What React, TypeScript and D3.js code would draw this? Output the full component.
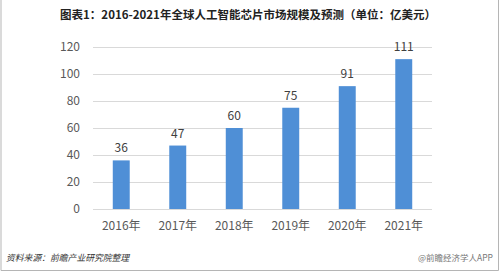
import React from "react";
import * as d3 from "d3";

const categories = ["2016年", "2017年", "2018年", "2019年", "2020年", "2021年"];
const values = [36, 47, 60, 75, 91, 111];
const yTicks = [0, 20, 40, 60, 80, 100, 120];
const title = "图表1：2016-2021年全球人工智能芯片市场规模及预测（单位：亿美元）";
const source = "资料来源：前瞻产业研究院整理";
const credit = "@前瞻经济学人APP";

const W = 500;
const H = 272;
const left = 93;
const right = 432;
const top = 47;
const bottom = 209;

export default function App() {
  const x = d3.scaleBand<string>().domain(categories).range([left, right]).paddingInner(0.7).paddingOuter(0.35);
  const y = d3.scaleLinear().domain([0, 120]).range([bottom, top]);
  const font = "'Microsoft YaHei', 'Noto Sans CJK SC', sans-serif";
  return (
    <svg width={W} height={H} style={{ position: "absolute", left: 0, top: 0, background: "#fff" }} fontFamily={font}>
      <rect x={0} y={0} width={W} height={H} fill="#fff" />
      <line x1={1} y1={0} x2={1} y2={270.5} stroke="#b5b5b5" />
      <line x1={498.5} y1={0} x2={498.5} y2={270.5} stroke="#b5b5b5" />
      <line x1={1} y1={270.5} x2={498.5} y2={270.5} stroke="#b5b5b5" />
      <text x={248} y={19} textAnchor="middle" fontSize={11.5} fontWeight="bold" fill="#222">{title}</text>
      {yTicks.map((t) => (
        <g key={t}>
          <line x1={left} x2={right} y1={Math.round(y(t)) + 0.5} y2={Math.round(y(t)) + 0.5} stroke="#d9d9d9" />
          <text x={80} y={y(t)} dy="0.35em" textAnchor="end" fontSize={12} fill="#595959">{t}</text>
        </g>
      ))}
      {categories.map((c, i) => (
        <g key={c}>
          <rect x={x(c)} y={y(values[i])} width={x.bandwidth()} height={bottom - y(values[i])} fill="#4f8fd6" />
          <text x={(x(c) as number) + x.bandwidth() / 2} y={y(values[i]) - 8} textAnchor="middle" fontSize={12} fill="#404040">{values[i]}</text>
          <text x={(x(c) as number) + x.bandwidth() / 2} y={226} dy="0.35em" textAnchor="middle" fontSize={12} fill="#595959">{c}</text>
        </g>
      ))}
      <text x={6} y={261} fontSize={8.8} fontStyle="italic" fill="#333">{source}</text>
      <text x={493} y={261} textAnchor="end" fontSize={8.5} fill="#777">{credit}</text>
    </svg>
  );
}
